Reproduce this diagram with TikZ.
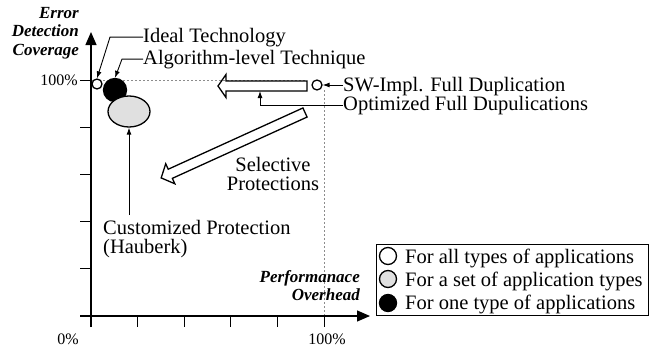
\documentclass[tikz,border=0pt]{standalone}
\usepackage{fontspec}
\setmainfont{Liberation Serif}
\usetikzlibrary{shapes.geometric,arrows.meta}
\begin{document}
\begin{tikzpicture}[x=1pt,y=-1pt,
  txt/.style={inner sep=0pt, font=\fontsize{20.5}{19}\selectfont},
  lab/.style={inner sep=0pt, font=\fontsize{16}{18}\selectfont},
  axlab/.style={inner sep=0pt, font=\fontsize{17}{18.5}\selectfont\bfseries\itshape, align=right},
  axisline/.style={line width=1.2pt, -{Triangle[length=13pt,width=11pt]}},
  tickline/.style={line width=1pt},
  guideline/.style={black!45, line width=0.8pt, dash pattern=on 2pt off 2pt},
  leader/.style={line width=0.9pt, -{Latex[length=7pt,width=5pt]}},
  blockarrow/.style={line width=1.3pt, line join=miter},
  dotmark/.style={circle, draw, line width=1.3pt, inner sep=0pt},
]
\useasboundingbox (0,0) rectangle (650,348);

% guide lines
\draw[guideline] (91,80) -- (307,80);
\draw[guideline] (324,90) -- (324,316);

% axes
\coordinate (ybot) at (91,327);
\coordinate (ytip) at (91,32);
\coordinate (xleft) at (80,316);
\coordinate (xtip) at (370,316);
\draw[axisline] (ybot) -- (ytip);
\draw[axisline] (xleft) -- (xtip);
\foreach \y in {80,127.1,174.3,221.4,268.6} \draw[tickline] (80,\y) -- (91,\y);
\foreach \x in {137.6,184.2,230.8,277.4,324} \draw[tickline] (\x,316) -- (\x,327);

% axis labels
\node[lab, anchor=base east] (y100) at (78,85) {100\%};
\node[lab, anchor=base] (x0) at (68,344) {0\%};
\node[lab, anchor=base] (x100) at (327,344) {100\%};
\node[axlab, anchor=north east] (ytitle) at (79,7) {Error\\Detection\\Coverage};
\node[axlab, anchor=north east] (xtitle) at (360,270) {Performanace\\Overhead};

% data points
\node[dotmark, fill=white, minimum size=10pt] (idc) at (97,84) {};
\node[dotmark, fill=black, minimum size=23pt] (blk) at (115,90) {};
\node[ellipse, draw, line width=1.3pt, fill=black!12, minimum width=42pt, minimum height=31pt, inner sep=0pt] (ell) at (129,111.5) {};
\node[dotmark, fill=white, minimum size=10pt] (swc) at (317,85) {};

% block arrows
\begin{scope}[shift={(307,86)}]
  \draw[blockarrow] (0,-5) -- (-81,-5) -- (-81,-11.5) -- (-89,0) -- (-81,11.5) -- (-81,5) -- (0,5) -- cycle;
\end{scope}
\coordinate (hbot) at (260,91);
\begin{scope}[shift={(305,112.5)}, rotate=204.46]
  \draw[blockarrow] (0,-5) -- (148,-5) -- (148,-11) -- (158,0) -- (148,11) -- (148,5) -- (0,5) -- cycle;
\end{scope}

% texts
\node[txt, anchor=base west] (ideal) at (143,42) {Ideal Technology};
\node[txt, anchor=base west] (algo) at (143,64) {Algorithm-level Technique};
\node[txt, anchor=base west] (sw) at (343,91) {SW-Impl. Full Duplication};
\node[txt, anchor=base west] (opt) at (343,110) {Optimized Full Dupulications};
\node[txt, anchor=north, align=center] (sel) at (273,157) {Selective\\Protections};
\node[txt, anchor=north west, align=left] (cust) at (103,220) {Customized Protection\\(Hauberk)};

% leaders
\draw[leader] (ideal.west) -- ++(-33,0) -- (idc.north);
\draw[leader] (algo.west) -- ++(-21,0) -- (blk.north);
\draw[leader] (swc.east -| sw.west) -- (swc.east);
\draw[leader] (opt.west) -| (hbot);
\draw[leader] (ell.south |- cust.north) ++(0,-5) -- (ell.south);

% legend
\node[draw, line width=0.9pt, minimum width=272pt, minimum height=71pt, inner sep=0pt] (legend) at (512,279.5) {};
\node[dotmark, fill=white, minimum size=17pt] (l1) at (388,256) {};
\node[dotmark, fill=black!12, minimum size=17pt] (l2) at (388,279) {};
\node[dotmark, fill=black, minimum size=17pt] (l3) at (388,303) {};
\node[txt, anchor=base west] (t1) at (405,263) {For all types of applications};
\node[txt, anchor=base west] (t2) at (405,286) {For a set of application types};
\node[txt, anchor=base west] (t3) at (405,309) {For one type of applications};
\end{tikzpicture}
\end{document}
